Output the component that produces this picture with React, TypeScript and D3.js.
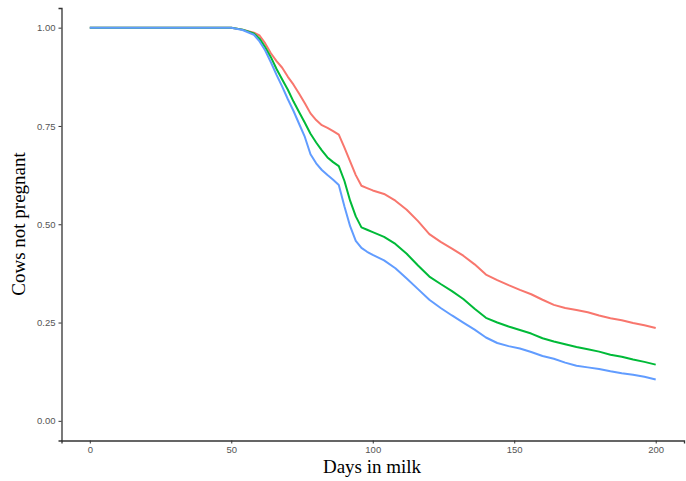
import React, { useEffect, useRef } from "react";
import * as d3 from "d3";

// days at which the survival estimate was read off the picture
const days = [0, 50, 54, 58, 60, 62, 64, 66, 68, 70, 72, 74, 76, 78, 80, 82, 84, 86, 88, 90, 92, 94, 96, 98, 100,
  104, 108, 112, 116, 120, 124, 128, 132, 136, 140, 144, 148, 152, 156, 160, 164, 168, 172, 176, 180, 184, 188, 192, 196, 200];

const redValues = [1, 1, 0.995, 0.987, 0.98, 0.96, 0.935, 0.915, 0.898, 0.875, 0.855, 0.832, 0.808, 0.782, 0.765, 0.752, 0.745, 0.737, 0.728, 0.695, 0.66, 0.625, 0.598, 0.592, 0.586,
  0.577, 0.56, 0.537, 0.508, 0.475, 0.455, 0.438, 0.42, 0.398, 0.372, 0.358, 0.345, 0.333, 0.322, 0.308, 0.295, 0.287, 0.282, 0.276, 0.268, 0.261, 0.256, 0.249, 0.243, 0.236];

const greenValues = [1, 1, 0.995, 0.985, 0.972, 0.95, 0.925, 0.895, 0.868, 0.842, 0.812, 0.785, 0.758, 0.73, 0.708, 0.688, 0.67, 0.658, 0.648, 0.61, 0.56, 0.52, 0.492, 0.486, 0.48,
  0.468, 0.45, 0.425, 0.395, 0.367, 0.348, 0.33, 0.31, 0.285, 0.262, 0.25, 0.24, 0.231, 0.222, 0.21, 0.202, 0.195, 0.188, 0.182, 0.176, 0.168, 0.163, 0.156, 0.15, 0.143];

const blueValues = [1, 1, 0.994, 0.982, 0.965, 0.942, 0.912, 0.88, 0.85, 0.818, 0.788, 0.755, 0.722, 0.678, 0.655, 0.638, 0.625, 0.613, 0.6, 0.545, 0.495, 0.458, 0.44, 0.43, 0.422,
  0.408, 0.388, 0.362, 0.335, 0.308, 0.287, 0.268, 0.25, 0.232, 0.212, 0.198, 0.19, 0.184, 0.175, 0.165, 0.158, 0.148, 0.14, 0.136, 0.132, 0.126, 0.121, 0.117, 0.112, 0.105];

const xTicks = [0, 50, 100, 150, 200];
const yTicks = [0, 0.25, 0.5, 0.75, 1];

const series = [
  { name: "red", color: "#F8766D", values: redValues },
  { name: "green", color: "#00BA38", values: greenValues },
  { name: "blue", color: "#619CFF", values: blueValues },
];

const width = 686;
const height = 481;

export default function App() {
  const ref = useRef<SVGSVGElement>(null);

  useEffect(() => {
    const svg = d3.select(ref.current);
    svg.selectAll("*").remove();

    // ggplot style 5% expansion on both axes
    const x = d3.scaleLinear().domain([-10, 210]).range([61.5, 684]);
    const y = d3.scaleLinear().domain([-0.05, 1.05]).range([440.5, 8]);

    const line = d3.line<number>()
      .x((d, i) => x(days[i]))
      .y(d => y(d));

    svg.append("g")
      .selectAll("path")
      .data(series)
      .join("path")
      .attr("fill", "none")
      .attr("stroke", d => d.color)
      .attr("stroke-width", 2)
      .attr("stroke-linejoin", "round")
      .attr("d", d => line(d.values));

    const xAxis = svg.append("g")
      .attr("transform", `translate(0, 440.5)`)
      .call(d3.axisBottom(x).tickValues(xTicks).tickSize(3).tickPadding(3).tickFormat(d3.format("d")));

    const yAxis = svg.append("g")
      .attr("transform", `translate(61.5, 0)`)
      .call(d3.axisLeft(y).tickValues(yTicks).tickSize(3).tickPadding(3).tickFormat(d3.format(".2f")));

    [xAxis, yAxis].forEach(g => {
      g.select(".domain").attr("stroke", "#333").attr("stroke-width", 1.3);
      g.selectAll(".tick line").attr("stroke", "#333");
      g.selectAll(".tick text")
        .attr("fill", "#555")
        .style("font-family", "Liberation Sans, Arial, sans-serif")
        .style("font-size", "9.5px");
    });

    svg.append("text")
      .attr("x", 372)
      .attr("y", 473)
      .attr("text-anchor", "middle")
      .style("font-family", "Liberation Serif, Times New Roman, serif")
      .style("font-size", "19px")
      .text("Days in milk");

    svg.append("text")
      .attr("transform", "rotate(-90)")
      .attr("x", -224)
      .attr("y", 25)
      .attr("text-anchor", "middle")
      .style("font-family", "Liberation Serif, Times New Roman, serif")
      .style("font-size", "19px")
      .text("Cows not pregnant");
  }, []);

  return (
    <svg ref={ref} width={width} height={height}
      style={{ position: "absolute", left: 0, top: 0, background: "#fff" }} />
  );
}
